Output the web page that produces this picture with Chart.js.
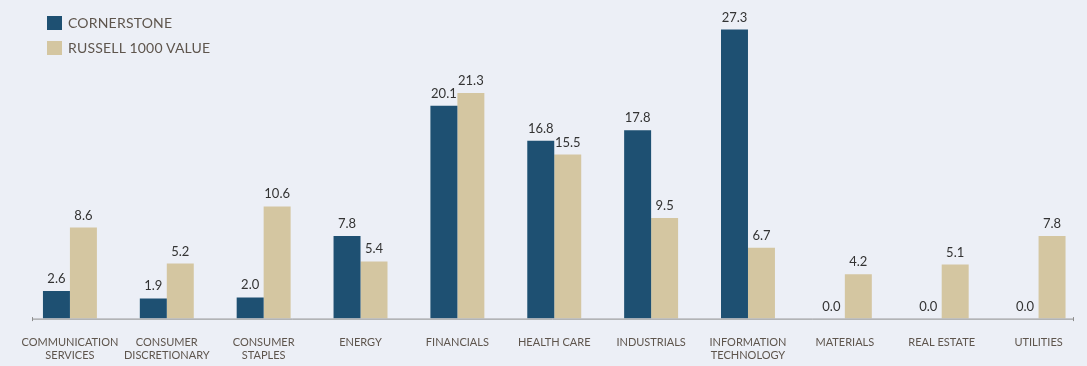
<!DOCTYPE html>
<html>
<head>
<meta charset="utf-8">
<script src="https://cdn.jsdelivr.net/npm/chart.js@4"></script>
<style>
  html, body { margin:0; padding:0; background:#eceff6; }
  #wrap { position:relative; width:1087px; height:366px; }
  canvas { position:absolute; left:0; top:0; }
  .leg { position:absolute; left:47px; font-family:Lato, sans-serif; font-size:14px; color:#5e554d; letter-spacing:0.2px; }
  .leg span.sw { position:absolute; left:0; width:15px; height:14px; }
  .leg span.tx { position:absolute; left:21px; top:-2px; white-space:nowrap; }
</style>
</head>
<body>
<div id="wrap">
  <canvas id="c" width="1087" height="366"></canvas>
  <div class="leg" style="top:16px;"><span class="sw" style="background:#1e5072"></span><span class="tx">CORNERSTONE</span></div>
  <div class="leg" style="top:41px;"><span class="sw" style="background:#d4c6a1"></span><span class="tx">RUSSELL 1000 VALUE</span></div>
</div>
<script>
const categories = [
  ["COMMUNICATION","SERVICES"],
  ["CONSUMER","DISCRETIONARY"],
  ["CONSUMER","STAPLES"],
  "ENERGY",
  "FINANCIALS",
  "HEALTH CARE",
  "INDUSTRIALS",
  ["INFORMATION","TECHNOLOGY"],
  "MATERIALS",
  "REAL ESTATE",
  "UTILITIES"
];
const cornerstone = [2.6, 1.9, 2.0, 7.8, 20.1, 16.8, 17.8, 27.3, 0.0, 0.0, 0.0];
const russell1000Value = [8.6, 5.2, 10.6, 5.4, 21.3, 15.5, 9.5, 6.7, 4.2, 5.1, 7.8];

const axisLine = {
  id: 'axisLine',
  afterDatasetsDraw(chart) {
    const ctx = chart.ctx;
    const y = chart.scales.y.getPixelForValue(0) + 0.5;
    ctx.save();
    ctx.strokeStyle = '#8c8c8c';
    ctx.lineWidth = 1;
    ctx.beginPath();
    ctx.moveTo(32, y); ctx.lineTo(1073, y);
    ctx.moveTo(32.5, y - 2); ctx.lineTo(32.5, y + 2);
    ctx.moveTo(1073.5, y - 2); ctx.lineTo(1073.5, y + 2);
    ctx.stroke();
    ctx.restore();
  }
};

const valueLabels = {
  id: 'valueLabels',
  afterDatasetsDraw(chart) {
    const ctx = chart.ctx;
    ctx.save();
    ctx.font = '13px Lato, sans-serif';
    ctx.fillStyle = '#333333';
    ctx.textAlign = 'center';
    ctx.textBaseline = 'alphabetic';
    chart.data.datasets.forEach((ds, di) => {
      const meta = chart.getDatasetMeta(di);
      meta.data.forEach((bar, i) => {
        const v = ds.data[i];
        ctx.fillText(v.toFixed(1), bar.x, bar.y - 8);
      });
    });
    ctx.restore();
  }
};

new Chart(document.getElementById('c'), {
  type: 'bar',
  data: {
    labels: categories,
    datasets: [
      { label: 'CORNERSTONE', data: cornerstone, backgroundColor: '#1e5072', borderWidth: 0 },
      { label: 'RUSSELL 1000 VALUE', data: russell1000Value, backgroundColor: '#d4c6a1', borderWidth: 0 }
    ]
  },
  options: {
    responsive: false,
    animation: false,
    layout: { padding: { left: 21.5, right: 0, top: 1, bottom: -13 } },
    datasets: { bar: { categoryPercentage: 0.557, barPercentage: 1.0 } },
    plugins: { legend: { display: false }, tooltip: { enabled: false } },
    scales: {
      x: {
        grid: { display: false, drawTicks: false },
        border: { display: false },
        ticks: {
          autoSkip: false, maxRotation: 0, minRotation: 0, padding: 17,
          color: '#5e554d',
          font: { family: 'Lato, sans-serif', size: 11, lineHeight: 1.2 }
        }
      },
      y: { display: false, min: 0, max: 30 }
    }
  },
  plugins: [axisLine, valueLabels]
});
</script>
</body>
</html>
